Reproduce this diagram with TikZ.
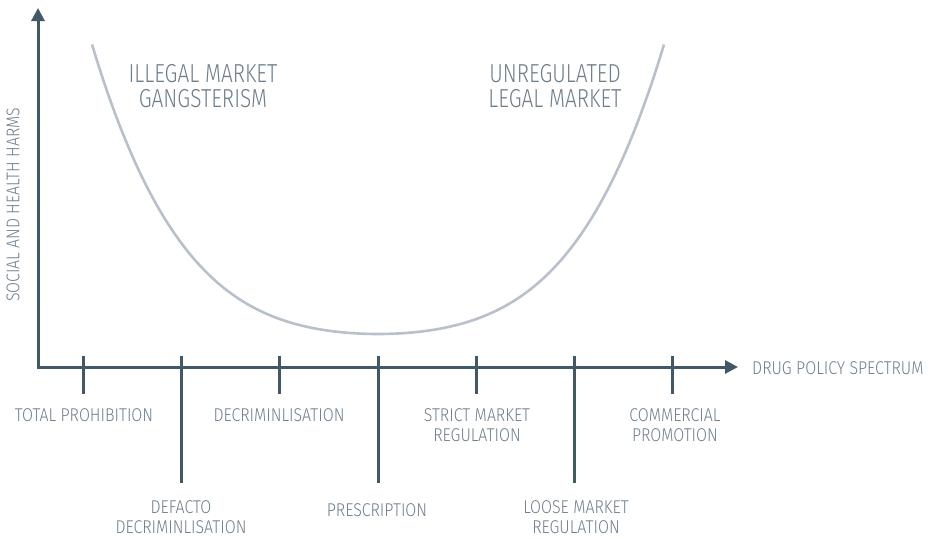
\documentclass[tikz,border=0pt]{standalone}
\usepackage{fontspec}
\setmainfont[FakeStretch=0.86, UprightFont={* Light}]{Fira Sans}
\newfontfamily\bigfont[FakeStretch=0.80, UprightFont={* Light}]{Fira Sans}
\usetikzlibrary{arrows.meta}
\definecolor{axiscol}{HTML}{435866}
\definecolor{curvecol}{HTML}{B7C0CB}
\definecolor{textcol}{HTML}{6D7E8C}
\tikzset{
  axisline/.style={draw=axiscol, line width=3pt, -{Triangle[length=13pt,width=13pt]}},
  tickline/.style={draw=axiscol, line width=3pt},
  lbl/.style={text=textcol, font=\fontsize{18.5}{19.5}\selectfont, align=center, inner sep=0pt},
  biglbl/.style={text=textcol, font=\bigfont\fontsize{26}{25}\selectfont, align=center, inner sep=0pt},
}
\begin{document}
\begin{tikzpicture}[x=1pt,y=-1pt]
\useasboundingbox (0,0) rectangle (939,538);
% curve
\draw[curvecol, line width=2.6pt, smooth, samples=80, domain=-2.86:2.86, variable=\u]
  plot ({378+100*\u},{334-12.82*\u*\u-2.76*\u*\u*\u*\u});
% axes
\coordinate (O) at (38,367);
\coordinate (ytip) at (38,8);
\coordinate (xtip) at (738,367);
\draw[axisline] ([yshift=-1.5pt]O) -- (ytip);
\draw[axisline] ([xshift=-1.5pt]O) -- (xtip);
% ticks
\foreach \n/\x/\b in {1/83/394,2/181/483,3/279/394,4/378/483,5/476/394,6/574/483,7/672/394}{
  \coordinate (t\n top) at (\x,356);
  \coordinate (t\n bot) at (\x,\b);
  \draw[tickline] (t\n top) -- (t\n bot);
}
% labels
\node[lbl] (l1) at (84,415) {TOTAL PROHIBITION};
\node[lbl] (l3) at (279,415) {DECRIMINLISATION};
\node[lbl] (l5) at (477,425) {STRICT MARKET\\REGULATION};
\node[lbl] (l7) at (675,425) {COMMERCIAL\\PROMOTION};
\node[lbl] (l2) at (181,517) {DEFACTO\\DECRIMINLISATION};
\node[lbl] (l4) at (377,510) {PRESCRIPTION};
\node[lbl] (l6) at (576,517) {LOOSE MARKET\\REGULATION};
\node[lbl, anchor=west] (xlab) at (752,368) {DRUG POLICY SPECTRUM};
\node[lbl, font=\fontsize{18.4}{19}\selectfont, rotate=90] (ylab) at (13,205) {SOCIAL AND HEALTH HARMS};
\node[biglbl] (ill) at (203,86) {ILLEGAL MARKET\\GANGSTERISM};
\node[biglbl] (unr) at (555,86) {UNREGULATED\\LEGAL MARKET};
\end{tikzpicture}
\end{document}
